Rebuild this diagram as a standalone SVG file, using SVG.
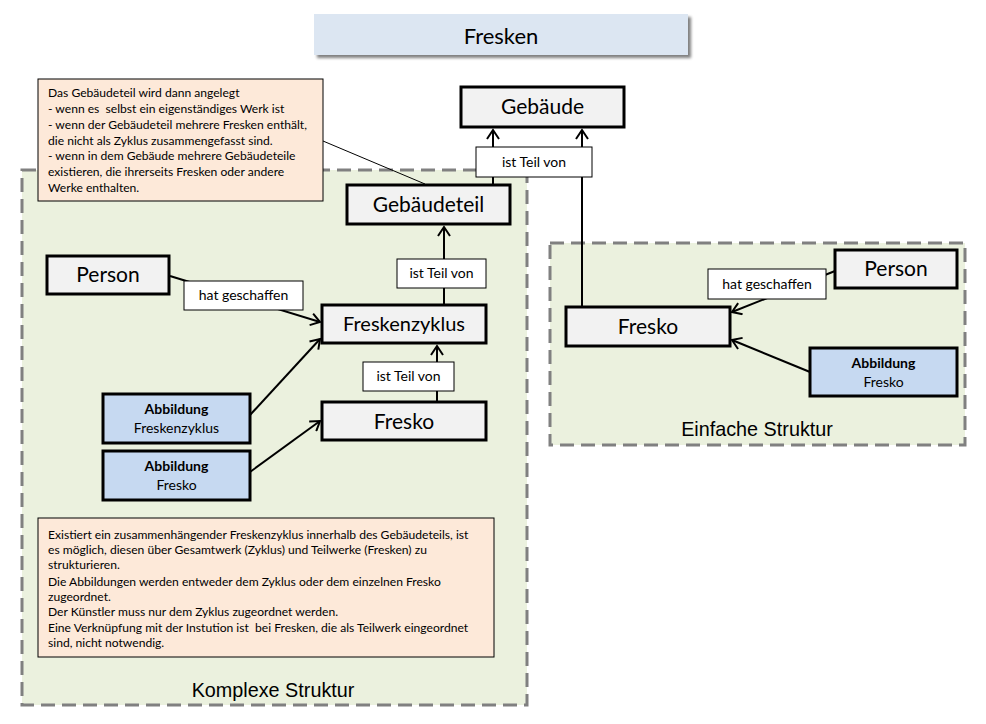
<svg xmlns="http://www.w3.org/2000/svg" width="986" height="724" viewBox="0 0 986 724">
<defs>
<style>
.grp{fill:#ebf1de;stroke:#808080;stroke-width:3;stroke-dasharray:14 7}
.note{fill:#fde9d9;stroke:#000;stroke-width:1}
.node{fill:#f2f2f2;stroke:#000;stroke-width:3}
.abb{fill:#c6d9f1;stroke:#000;stroke-width:3}
.lbl{fill:#fff;stroke:#000;stroke-width:1}
.conn{fill:none;stroke:#000;stroke-width:2}
.t{font-family:Lato,"Liberation Sans",sans-serif;fill:#000}
.nt{font-family:Lato,"Liberation Sans",sans-serif;font-size:12.1px;fill:#000}
.ar{font-family:"Liberation Sans",Arial,sans-serif;font-size:19.8px;fill:#000}
</style>
<marker id="arr" markerUnits="userSpaceOnUse" markerWidth="14" markerHeight="14" refX="11" refY="7" orient="auto">
<path d="M2,1 L11,7 L2,13" fill="none" stroke="#000" stroke-width="2"/>
</marker>
<filter id="sh" x="-5%" y="-20%" width="110%" height="160%">
<feGaussianBlur in="SourceAlpha" stdDeviation="1.5"/>
<feOffset dx="3" dy="3" result="b"/>
<feComponentTransfer><feFuncA type="linear" slope="0.5"/></feComponentTransfer>
<feMerge><feMergeNode/><feMergeNode in="SourceGraphic"/></feMerge>
</filter>
</defs>
<rect width="986" height="724" fill="#fff"/>

<g id="title">
<rect x="314" y="14" width="374" height="41" fill="#dce6f2" filter="url(#sh)"/>
<text class="t" x="501" y="44" font-size="22" text-anchor="middle">Fresken</text>
</g>

<g id="komplexe-struktur">
<rect class="grp" x="22" y="170" width="505" height="535"/>
<text class="ar" x="273" y="697" text-anchor="middle">Komplexe Struktur</text>
</g>

<g id="einfache-struktur">
<rect class="grp" x="550" y="243" width="415" height="202"/>
<text class="ar" x="757" y="436" text-anchor="middle">Einfache Struktur</text>
</g>

<g id="note-gebaeudeteil">
<rect class="note" x="38" y="79" width="285" height="122"/>
<text class="nt" x="48" y="97">Das Gebäudeteil wird dann angelegt</text>
<text class="nt" x="48" y="113" xml:space="preserve">- wenn es  selbst ein eigenständiges Werk ist</text>
<text class="nt" x="48" y="129">- wenn der Gebäudeteil mehrere Fresken enthält,</text>
<text class="nt" x="48" y="145">die nicht als Zyklus zusammengefasst sind.</text>
<text class="nt" x="48" y="160">- wenn in dem Gebäude mehrere Gebäudeteile</text>
<text class="nt" x="48" y="176">existieren, die ihrerseits Fresken oder andere</text>
<text class="nt" x="48" y="192">Werke enthalten.</text>
</g>

<g id="note-zyklus">
<rect class="note" x="38" y="518" width="456" height="139"/>
<text class="nt" x="48" y="539">Existiert ein zusammenhängender Freskenzyklus innerhalb des Gebäudeteils, ist</text>
<text class="nt" x="48" y="554">es möglich, diesen über Gesamtwerk (Zyklus) und Teilwerke (Fresken) zu</text>
<text class="nt" x="48" y="569">strukturieren.</text>
<text class="nt" x="48" y="586">Die Abbildungen werden entweder dem Zyklus oder dem einzelnen Fresko</text>
<text class="nt" x="48" y="601">zugeordnet.</text>
<text class="nt" x="48" y="616">Der Künstler muss nur dem Zyklus zugeordnet werden.</text>
<text class="nt" x="48" y="632" xml:space="preserve">Eine Verknüpfung mit der Instution ist  bei Fresken, die als Teilwerk eingeordnet</text>
<text class="nt" x="48" y="647">sind, nicht notwendig.</text>
</g>

<g id="gebaeude">
<rect class="node" x="461" y="87" width="163" height="40"/>
<text class="t" x="542.5" y="114" font-size="21" text-anchor="middle">Gebäude</text>
</g>

<g id="gebaeudeteil">
<rect class="node" x="347" y="185" width="163" height="39"/>
<text class="t" x="428.5" y="212" font-size="21" text-anchor="middle">Gebäudeteil</text>
</g>

<g id="person-komplex">
<rect class="node" x="47" y="256" width="122" height="38"/>
<text class="t" x="108" y="282" font-size="21" text-anchor="middle">Person</text>
</g>

<g id="freskenzyklus">
<rect class="node" x="322" y="305" width="164" height="38"/>
<text class="t" x="404" y="331" font-size="20" text-anchor="middle">Freskenzyklus</text>
</g>

<g id="fresko-komplex">
<rect class="node" x="322" y="402" width="164" height="38"/>
<text class="t" x="404" y="429" font-size="21" text-anchor="middle">Fresko</text>
</g>

<g id="abbildung-freskenzyklus">
<rect class="abb" x="103" y="394" width="147" height="49"/>
<text class="t" x="176.5" y="414" font-size="14" font-weight="bold" text-anchor="middle">Abbildung</text>
<text class="t" x="176.5" y="433" font-size="14" text-anchor="middle">Freskenzyklus</text>
</g>

<g id="abbildung-fresko-komplex">
<rect class="abb" x="103" y="451" width="147" height="49"/>
<text class="t" x="176.5" y="471" font-size="14" font-weight="bold" text-anchor="middle">Abbildung</text>
<text class="t" x="176.5" y="490" font-size="14" text-anchor="middle">Fresko</text>
</g>

<g id="person-einfach">
<rect class="node" x="835" y="250" width="122" height="38"/>
<text class="t" x="896" y="276" font-size="21" text-anchor="middle">Person</text>
</g>

<g id="fresko-einfach">
<rect class="node" x="566" y="307" width="164" height="39"/>
<text class="t" x="648" y="334" font-size="21" text-anchor="middle">Fresko</text>
</g>

<g id="abbildung-fresko-einfach">
<rect class="abb" x="810" y="348" width="147" height="48"/>
<text class="t" x="883.5" y="368" font-size="14" font-weight="bold" text-anchor="middle">Abbildung</text>
<text class="t" x="883.5" y="387" font-size="14" text-anchor="middle">Fresko</text>
</g>

<g id="connectors">
<line x1="323" y1="141" x2="425" y2="184" stroke="#000" stroke-width="1"/>
<line class="conn" x1="493" y1="185" x2="493" y2="130" marker-end="url(#arr)"/>
<line class="conn" x1="582" y1="307" x2="582" y2="130" marker-end="url(#arr)"/>
<line class="conn" x1="444" y1="305" x2="444" y2="227" marker-end="url(#arr)"/>
<line class="conn" x1="437" y1="402" x2="437" y2="346" marker-end="url(#arr)"/>
<line class="conn" x1="170" y1="276" x2="320" y2="322" marker-end="url(#arr)"/>
<line class="conn" x1="250" y1="415" x2="320" y2="339" marker-end="url(#arr)"/>
<line class="conn" x1="250" y1="472" x2="320" y2="421" marker-end="url(#arr)"/>
<line class="conn" x1="835" y1="271" x2="732" y2="312" marker-end="url(#arr)"/>
<line class="conn" x1="810" y1="372" x2="732" y2="340" marker-end="url(#arr)"/>

<rect class="lbl" x="476" y="147" width="116" height="30"/>
<text class="t" x="534" y="167" font-size="14" text-anchor="middle">ist Teil von</text>
<rect class="lbl" x="397" y="259" width="89" height="29"/>
<text class="t" x="441.5" y="278" font-size="14" text-anchor="middle">ist Teil von</text>
<rect class="lbl" x="363" y="362" width="91" height="29"/>
<text class="t" x="408.5" y="381" font-size="14" text-anchor="middle">ist Teil von</text>
<rect class="lbl" x="184" y="281" width="119" height="29"/>
<text class="t" x="243.5" y="300" font-size="14" text-anchor="middle">hat geschaffen</text>
<rect class="lbl" x="708" y="269" width="118" height="30"/>
<text class="t" x="767" y="289" font-size="14" text-anchor="middle">hat geschaffen</text>
</g>
</svg>
